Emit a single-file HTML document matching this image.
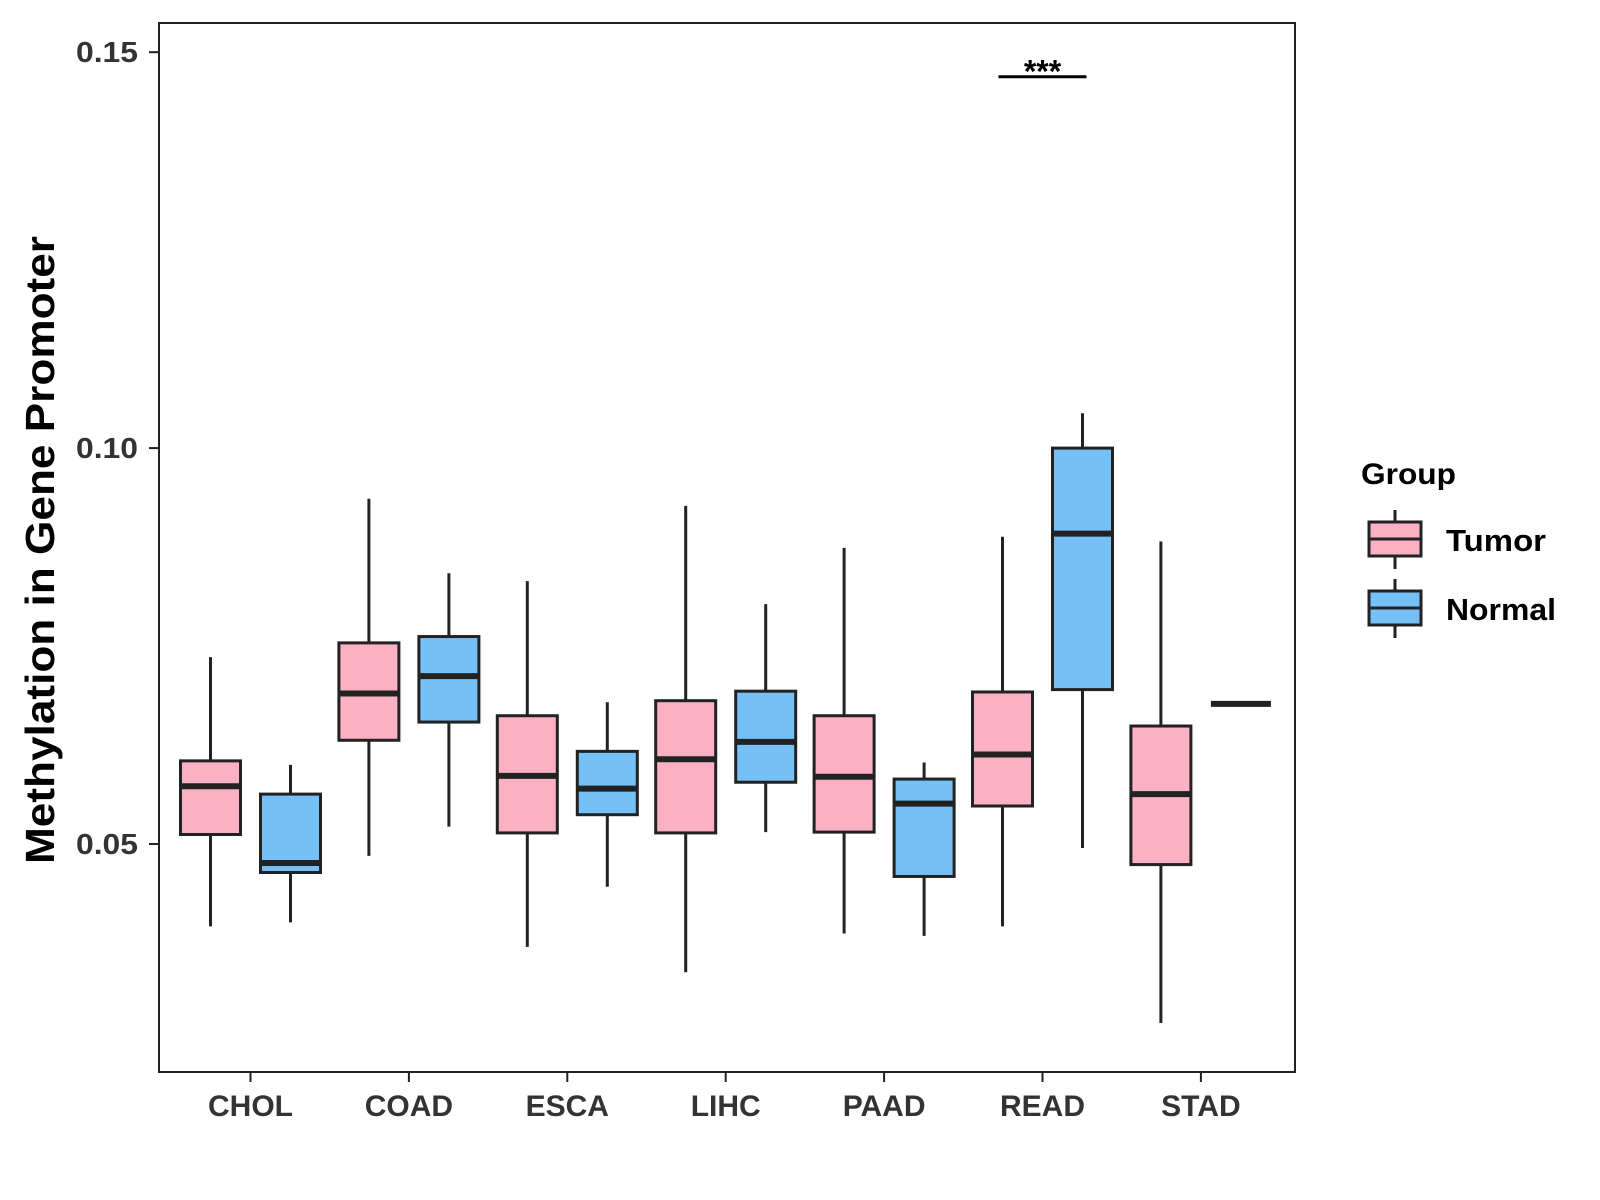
<!DOCTYPE html>
<html><head><meta charset="utf-8"><style>
html,body{margin:0;padding:0;background:#fff;}
svg{display:block;font-family:"Liberation Sans",Arial,sans-serif;}
</style></head><body>
<svg id="chart" width="1600" height="1200" viewBox="0 0 1600 1200">
<rect x="0" y="0" width="1600" height="1200" fill="#fff"/>
<g id="marks"></g>
<rect x="159" y="23" width="1136" height="1049" fill="none" stroke="#222" stroke-width="2"/>
<g id="axes"></g>
<text x="54" y="550" transform="rotate(-90 54 550)" text-anchor="middle" font-size="41" font-weight="bold" fill="#000" textLength="628" lengthAdjust="spacingAndGlyphs">Methylation in Gene Promoter</text>
<g transform="translate(-7,0)">
<text x="1368" y="484" font-size="30" font-weight="bold" fill="#000" textLength="95" lengthAdjust="spacingAndGlyphs">Group</text>
<g>
<line x1="1402" y1="510" x2="1402" y2="569" stroke="#222" stroke-width="3"/>
<rect x="1376" y="522" width="52" height="34" fill="#FBB1C3" stroke="#222" stroke-width="3"/>
<line x1="1376" y1="539" x2="1428" y2="539" stroke="#222" stroke-width="3"/>
<text x="1453" y="551" font-size="31" font-weight="bold" fill="#000" textLength="100" lengthAdjust="spacingAndGlyphs">Tumor</text>
</g>
<g>
<line x1="1402" y1="579" x2="1402" y2="638" stroke="#222" stroke-width="3"/>
<rect x="1376" y="591" width="52" height="34" fill="#74C0F7" stroke="#222" stroke-width="3"/>
<line x1="1376" y1="608" x2="1428" y2="608" stroke="#222" stroke-width="3"/>
<text x="1453" y="620" font-size="31" font-weight="bold" fill="#000" textLength="110" lengthAdjust="spacingAndGlyphs">Normal</text>
</g>
</g>
</svg>
<script>
const categories = ["CHOL","COAD","ESCA","LIHC","PAAD","READ","STAD"];
// each: [lowWhisker, Q1, median, Q3, highWhisker]
const tumorStats = [
 [0.0396,0.0512,0.0573,0.0605,0.0736],
 [0.0485,0.0631,0.0690,0.0754,0.0936],
 [0.0370,0.0514,0.0586,0.0662,0.0832],
 [0.0338,0.0514,0.0607,0.0681,0.0927],
 [0.0387,0.0515,0.0585,0.0662,0.0874],
 [0.0396,0.0548,0.0613,0.0692,0.0888],
 [0.0274,0.0474,0.0563,0.0649,0.0882]
];
const normalStats = [
 [0.0401,0.0464,0.0476,0.0563,0.0600],
 [0.0522,0.0654,0.0712,0.0762,0.0842],
 [0.0446,0.0537,0.0570,0.0617,0.0679],
 [0.0515,0.0578,0.0629,0.0693,0.0803],
 [0.0384,0.0459,0.0551,0.0582,0.0603],
 [0.0495,0.0695,0.0892,0.1000,0.1044],
 [0.0677,0.0677,0.0677,0.0677,0.0677]
];
const yTicks = [0.05,0.10,0.15];
const yTickLabels = ["0.05","0.10","0.15"];
const sigLevel = 0.1469;
const sigLabel = "***";
const sigCategory = "READ";

const NS="http://www.w3.org/2000/svg";
const yScale = v => 448.1 - (v-0.10)*7918;
const xScale = i => 250.5 + i*158.4;
const off = 40, bw = 60;
const marks=document.getElementById('marks'), axes=document.getElementById('axes');
function mk(tag,attrs,parent){const e=document.createElementNS(NS,tag);for(const k in attrs)e.setAttribute(k,attrs[k]);parent.appendChild(e);return e;}

function drawBox(stats,cx,fill,name){
  const g=mk('g',{},marks);
  
  
  const [lo,q1,md,q3,hi]=stats;
  mk('line',{x1:cx,x2:cx,y1:yScale(hi),y2:yScale(lo),stroke:'#222','stroke-width':3},g);
  mk('rect',{x:cx-bw/2,y:yScale(q3),width:bw,height:Math.max(0,yScale(q1)-yScale(q3)),fill:fill,stroke:'#222','stroke-width':3},g);
  mk('line',{x1:cx-bw/2,x2:cx+bw/2,y1:yScale(md),y2:yScale(md),stroke:'#222','stroke-width':6},g);
}
categories.forEach((c,i)=>{
  drawBox(tumorStats[i],xScale(i)-off,'#FBB1C3','box-tumor-'+c.toLowerCase());
  drawBox(normalStats[i],xScale(i)+off,'#74C0F7','box-normal-'+c.toLowerCase());
  const t=mk('line',{x1:xScale(i),x2:xScale(i),y1:1072,y2:1082,stroke:'#222','stroke-width':2},axes);
  
  
  const l=mk('text',{x:xScale(i),y:1116,'text-anchor':'middle','font-size':30,'font-weight':'bold',fill:'#333'},axes);
  l.textContent=c;
  
  
});
yTicks.forEach((v,i)=>{
  const t=mk('line',{x1:149,x2:159,y1:yScale(v),y2:yScale(v),stroke:'#222','stroke-width':2},axes);
  
  
  const l=mk('text',{x:138,y:yScale(v)+10,'text-anchor':'end','font-size':29,'font-weight':'bold',fill:'#333',textLength:62,lengthAdjust:'spacingAndGlyphs'},axes);
  l.textContent=yTickLabels[i];
  
  
});
const si=categories.indexOf(sigCategory);
const sl=mk('line',{x1:xScale(si)-44,x2:xScale(si)+44,y1:yScale(sigLevel),y2:yScale(sigLevel),stroke:'#000','stroke-width':3},marks);


const st=mk('text',{x:xScale(si),y:yScale(sigLevel)+6,'text-anchor':'middle','font-size':32,'font-weight':'bold',fill:'#000'},marks);
st.textContent=sigLabel;


</script>
</body></html>
